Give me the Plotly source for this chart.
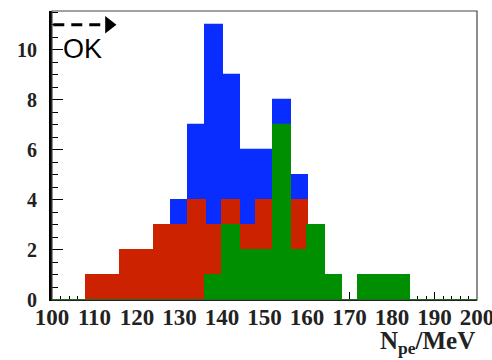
import numpy as np
import plotly.graph_objects as go

# Histogram binning: 25 bins of width 4 between 100 and 200
bin_edges = list(range(100, 204, 4))

# Counts per bin (bins starting at 100, 104, ..., 196)
blue_counts = [0, 0, 0, 0, 0, 0, 0, 4, 7, 11, 9, 6, 6, 8, 5, 0, 0, 0, 0, 0, 0, 0, 0, 0, 0]
red_counts = [0, 0, 1, 1, 2, 2, 3, 3, 4, 3, 4, 3, 4, 4, 4, 0, 0, 0, 0, 0, 0, 0, 0, 0, 0]
green_counts = [0, 0, 0, 0, 0, 0, 0, 0, 0, 1, 3, 2, 2, 7, 2, 3, 1, 0, 1, 1, 1, 0, 0, 0, 0]

x_ticks = list(range(100, 210, 10))
y_ticks = list(range(0, 12, 2))

BLUE = "#0a2dff"
RED = "#cc2200"
GREEN = "#008f00"

fig = go.Figure()


def add_hist(counts, color):
    fig.add_trace(go.Scatter(
        x=bin_edges,
        y=counts + [counts[-1]],
        mode="lines",
        line=dict(shape="hv", color=color, width=2),
        fill="tozeroy",
        fillcolor=color,
        hoverinfo="skip",
        showlegend=False,
    ))


add_hist(blue_counts, BLUE)
add_hist(red_counts, RED)
add_hist(green_counts, GREEN)

# Dashed arrow with the "OK" label in the upper-left corner
fig.add_shape(type="line", x0=100.3, x1=111.5, y0=11.0, y1=11.0,
              line=dict(color="black", width=3, dash="11px,7px"))
fig.add_trace(go.Scatter(x=[113.4], y=[11.0], mode="markers",
                         marker=dict(symbol="triangle-right", size=15, color="black"),
                         hoverinfo="skip", showlegend=False))
fig.add_annotation(x=102.2, y=10.05, text="OK", showarrow=False,
                   xanchor="left", yanchor="middle",
                   font=dict(family="Liberation Sans", size=27, color="black"))

# Frame around the plot area
fig.add_shape(type="rect", xref="paper", yref="paper", x0=0, x1=1, y0=0, y1=1,
              line=dict(color="#444", width=1.2), layer="above")

# Axis title, right-aligned under the x axis
fig.add_annotation(xref="paper", yref="paper", x=1.0, y=-0.085, xanchor="right", yanchor="top",
                   text="<b>N<sub>pe</sub>/MeV</b>", showarrow=False,
                   font=dict(family="Liberation Serif", size=25, color="#222"))

tick_font = dict(family="Liberation Serif", size=23, color="#222", weight="bold")

fig.update_xaxes(
    range=[100, 200], tickvals=x_ticks, ticktext=[str(v) for v in x_ticks],
    ticks="inside", ticklen=8, tickwidth=1, tickcolor="black",
    minor=dict(ticks="inside", dtick=2, ticklen=4, tickcolor="black"),
    showgrid=False, zeroline=False, showline=True, linecolor="black", linewidth=1,
    layer="below traces", tickfont=tick_font, ticklabelstandoff=-4,
    ticklabeloverflow="allow", automargin=False,
)
fig.update_yaxes(
    range=[0, 11.55], tickvals=y_ticks, ticktext=[str(v) for v in y_ticks],
    ticks="inside", ticklen=11, tickwidth=1.2, tickcolor="black",
    minor=dict(ticks="inside", dtick=0.5, ticklen=6, tickcolor="black"),
    showgrid=False, zeroline=False, showline=True, linecolor="black", linewidth=3,
    tickfont=dict(family="Liberation Serif", size=20, color="#222", weight="bold"),
    ticklabelstandoff=8, automargin=False,
)

fig.update_layout(
    width=492, height=360,
    margin=dict(l=52, r=15, t=11, b=60),
    plot_bgcolor="white", paper_bgcolor="white",
)

fig.write_html("out.html")
